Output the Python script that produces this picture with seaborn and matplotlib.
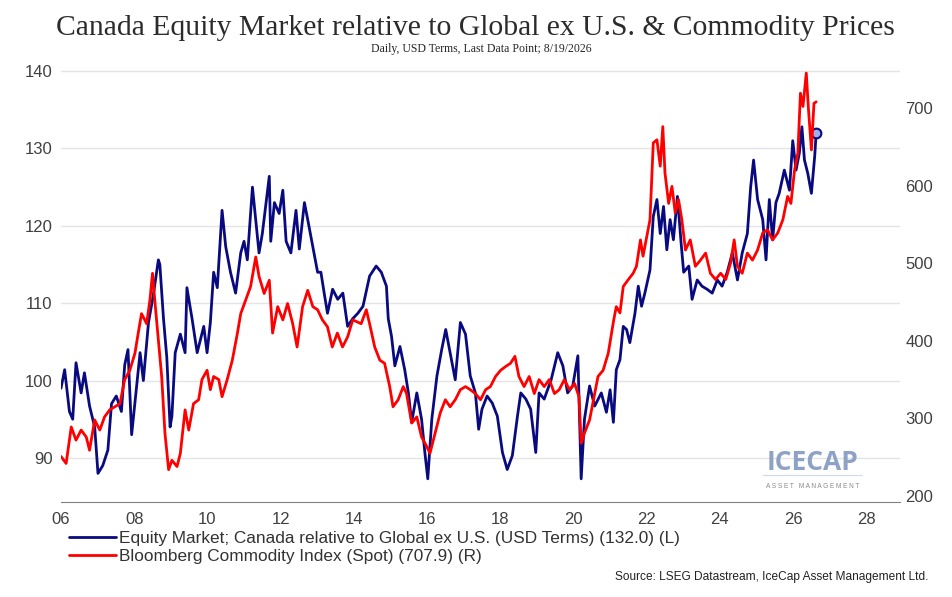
import numpy as np
import pandas as pd
import matplotlib
matplotlib.use('Agg')
import matplotlib.pyplot as plt
import seaborn as sns
from matplotlib.lines import Line2D

sns.set_style('white')
plt.rcParams['font.family'] = ['Liberation Sans', 'DejaVu Sans']

# Canada vs Global ex U.S. (left axis)
eq_year = [2006.00, 2006.10, 2006.23, 2006.32, 2006.41, 2006.55, 2006.64, 2006.78, 2006.92, 2007.01,
           2007.14, 2007.28, 2007.38, 2007.51, 2007.65, 2007.74, 2007.83, 2007.93, 2008.06, 2008.16,
           2008.25, 2008.39, 2008.52, 2008.66, 2008.70, 2008.80, 2008.89, 2008.98, 2009.03, 2009.12,
           2009.26, 2009.39, 2009.44, 2009.58, 2009.72, 2009.90, 2009.99, 2010.08, 2010.17, 2010.27,
           2010.40, 2010.50, 2010.63, 2010.77, 2010.91, 2011.00, 2011.09, 2011.23, 2011.32, 2011.41,
           2011.50, 2011.69, 2011.73, 2011.83, 2011.96, 2012.06, 2012.15, 2012.28, 2012.42, 2012.51,
           2012.65, 2012.74, 2012.88, 2013.01, 2013.10, 2013.20, 2013.28, 2013.42, 2013.56, 2013.70,
           2013.83, 2013.97, 2014.11, 2014.25, 2014.43, 2014.61, 2014.75, 2014.89, 2014.94, 2015.03,
           2015.12, 2015.26, 2015.39, 2015.49, 2015.58, 2015.72, 2015.85, 2015.94, 2016.02, 2016.13,
           2016.27, 2016.40, 2016.51, 2016.63, 2016.77, 2016.91, 2017.05, 2017.18, 2017.32, 2017.41,
           2017.50, 2017.64, 2017.78, 2017.92, 2018.06, 2018.19, 2018.33, 2018.47, 2018.56, 2018.70,
           2018.83, 2018.97, 2019.06, 2019.20, 2019.39, 2019.57, 2019.71, 2019.84, 2019.98, 2020.12,
           2020.21, 2020.30, 2020.44, 2020.58, 2020.76, 2020.90, 2021.00, 2021.09, 2021.17, 2021.27,
           2021.36, 2021.45, 2021.54, 2021.68, 2021.77, 2021.86, 2021.95, 2022.09, 2022.18, 2022.28,
           2022.37, 2022.46, 2022.55, 2022.64, 2022.73, 2022.84, 2022.94, 2023.01, 2023.15, 2023.24,
           2023.38, 2023.51, 2023.65, 2023.79, 2023.93, 2024.06, 2024.20, 2024.34, 2024.48, 2024.61,
           2024.75, 2024.84, 2024.92, 2025.03, 2025.17, 2025.26, 2025.35, 2025.44, 2025.53, 2025.62,
           2025.76, 2025.90, 2025.99, 2026.08, 2026.17, 2026.24, 2026.31, 2026.40, 2026.50, 2026.59,
           2026.63]
eq_value = [99.0, 101.4, 96.0, 95.0, 102.3, 98.4, 101.0, 96.7, 94.0, 88.0,
            89.0, 91.0, 97.0, 98.0, 96.0, 102.0, 104.0, 93.0, 99.0, 103.6,
            100.0, 107.5, 111.0, 115.6, 115.0, 108.0, 103.0, 94.0, 95.4, 103.6,
            106.0, 103.6, 112.0, 108.0, 103.6, 107.0, 103.6, 107.5, 114.0, 112.0,
            122.0, 117.3, 114.0, 111.3, 116.5, 118.0, 115.6, 125.0, 120.8, 116.5,
            119.0, 126.4, 118.0, 123.0, 121.6, 124.6, 118.0, 116.5, 122.0, 117.0,
            123.0, 120.8, 117.3, 114.0, 114.0, 111.0, 108.7, 111.8, 110.5, 111.3,
            107.0, 108.0, 108.7, 109.6, 113.5, 114.8, 114.0, 112.2, 108.0, 105.7,
            101.9, 104.4, 101.4, 98.4, 94.6, 98.4, 95.0, 90.7, 87.3, 95.0,
            100.6, 104.0, 106.6, 103.6, 100.1, 107.5, 106.0, 100.6, 98.4, 93.7,
            96.3, 98.0, 97.1, 95.4, 90.7, 88.5, 90.3, 95.4, 98.4, 97.6,
            96.3, 90.7, 98.4, 97.6, 100.1, 103.6, 101.9, 98.4, 99.3, 103.2,
            87.3, 95.0, 99.3, 96.7, 98.4, 95.9, 98.8, 94.6, 101.4, 102.7,
            107.0, 106.6, 104.9, 108.7, 112.2, 109.6, 111.3, 114.3, 121.2, 123.4,
            119.0, 122.5, 116.9, 120.8, 118.2, 123.8, 117.8, 114.0, 114.8, 110.5,
            113.0, 112.2, 111.8, 111.3, 113.0, 112.2, 114.0, 116.5, 113.0, 116.5,
            119.0, 125.0, 128.5, 123.4, 120.8, 115.6, 123.4, 118.2, 123.0, 124.2,
            127.2, 124.6, 131.0, 127.2, 129.4, 132.8, 128.5, 126.8, 124.2, 129.0,
            132.0]

# Bloomberg Commodity Index spot (right axis)
cm_year = [2006.00, 2006.14, 2006.28, 2006.41, 2006.55, 2006.69, 2006.78, 2006.92, 2007.06, 2007.19,
           2007.33, 2007.47, 2007.61, 2007.74, 2007.88, 2008.02, 2008.11, 2008.20, 2008.34, 2008.43,
           2008.50, 2008.57, 2008.66, 2008.75, 2008.84, 2008.94, 2009.03, 2009.17, 2009.26, 2009.39,
           2009.49, 2009.62, 2009.76, 2009.85, 2009.99, 2010.08, 2010.17, 2010.31, 2010.40, 2010.54,
           2010.68, 2010.82, 2010.91, 2011.05, 2011.18, 2011.32, 2011.41, 2011.55, 2011.69, 2011.78,
           2011.92, 2012.06, 2012.19, 2012.33, 2012.45, 2012.60, 2012.74, 2012.88, 2013.01, 2013.14,
           2013.28, 2013.41, 2013.55, 2013.69, 2013.83, 2013.97, 2014.20, 2014.34, 2014.43, 2014.57,
           2014.71, 2014.84, 2014.98, 2015.07, 2015.21, 2015.35, 2015.44, 2015.58, 2015.72, 2015.85,
           2015.99, 2016.08, 2016.22, 2016.36, 2016.50, 2016.63, 2016.77, 2016.91, 2017.05, 2017.18,
           2017.32, 2017.46, 2017.60, 2017.73, 2017.87, 2018.01, 2018.15, 2018.28, 2018.40, 2018.51,
           2018.65, 2018.79, 2018.93, 2019.06, 2019.20, 2019.34, 2019.48, 2019.61, 2019.75, 2019.89,
           2020.03, 2020.15, 2020.21, 2020.30, 2020.44, 2020.58, 2020.67, 2020.81, 2020.95, 2021.10,
           2021.17, 2021.27, 2021.36, 2021.50, 2021.63, 2021.72, 2021.83, 2021.90, 2022.00, 2022.09,
           2022.18, 2022.28, 2022.37, 2022.44, 2022.50, 2022.60, 2022.69, 2022.78, 2022.87, 2022.96,
           2023.06, 2023.19, 2023.33, 2023.47, 2023.61, 2023.74, 2023.88, 2024.02, 2024.16, 2024.29,
           2024.39, 2024.48, 2024.61, 2024.75, 2024.89, 2025.03, 2025.17, 2025.30, 2025.44, 2025.58,
           2025.72, 2025.85, 2025.94, 2026.04, 2026.13, 2026.20, 2026.27, 2026.36, 2026.42, 2026.50,
           2026.57, 2026.63]
cm_value = [251, 242, 289, 272, 285, 276, 259, 298, 285, 302,
            311, 315, 319, 350, 362, 384, 410, 435, 422, 453,
            487, 448, 401, 354, 281, 234, 246, 238, 255, 311,
            285, 319, 324, 350, 362, 337, 354, 350, 328, 350,
            375, 410, 435, 453, 470, 508, 483, 461, 478, 410,
            444, 427, 448, 422, 392, 444, 465, 444, 440, 427,
            418, 392, 410, 392, 405, 427, 422, 440, 422, 392,
            375, 371, 341, 315, 324, 341, 332, 294, 302, 276,
            264, 255, 281, 307, 324, 315, 324, 337, 341, 337,
            332, 324, 337, 341, 354, 362, 367, 371, 380, 354,
            341, 354, 332, 350, 341, 350, 332, 337, 350, 337,
            345, 328, 268, 281, 298, 332, 354, 362, 384, 427,
            444, 436, 470, 479, 487, 496, 530, 509, 534, 556,
            655, 659, 625, 676, 616, 577, 599, 565, 582, 556,
            517, 530, 496, 504, 513, 487, 479, 487, 479, 500,
            530, 496, 487, 513, 504, 517, 539, 543, 530, 539,
            556, 586, 577, 620, 642, 719, 702, 745, 698, 646,
            706, 707.9]

year_ticks = [2006, 2008, 2010, 2012, 2014, 2016, 2018, 2020, 2022, 2024, 2026, 2028]
year_labels = ['06', '08', '10', '12', '14', '16', '18', '20', '22', '24', '26', '28']
left_ticks = [90, 100, 110, 120, 130, 140]
right_ticks = [200, 300, 400, 500, 600, 700]

eq_label = 'Equity Market; Canada relative to Global ex U.S. (USD Terms) (132.0) (L)'
cm_label = 'Bloomberg Commodity Index (Spot) (707.9) (R)'

navy = '#0a0a80'
red = '#ff0000'
txt = '#404040'

eq = pd.DataFrame({'year': eq_year, 'value': eq_value})
cm = pd.DataFrame({'year': cm_year, 'value': cm_value})

fig = plt.figure(figsize=(9.53, 5.97), dpi=100)
ax = fig.add_axes([61/953, 1 - 502/597, 839/953, 434/597])
ax2 = ax.twinx()

sns.lineplot(data=eq, x='year', y='value', ax=ax, color=navy, lw=2, sort=False)
sns.lineplot(data=cm, x='year', y='value', ax=ax2, color=red, lw=2, sort=False)
ax.plot(eq_year[-1], eq_value[-1], marker='o', ms=7, mfc='#9fb0e8', mec=navy, mew=1.5, zorder=5)

ax.set_xlim(2006, 2028.92)
ax.set_ylim(84.3, 140.4)
ax2.set_ylim(192.3, 751.5)

ax.set_xticks(year_ticks)
ax.set_xticklabels(year_labels)
ax.set_yticks(left_ticks)
ax2.set_yticks(right_ticks)
ax.set_xlabel('')
ax.set_ylabel('')
ax2.set_ylabel('')

ax.grid(axis='y', color='#e4e4e4', lw=1)
ax.grid(axis='x', visible=False)
ax2.grid(False)
for a in (ax, ax2):
    for s in ['top', 'right', 'left']:
        a.spines[s].set_visible(False)
ax2.spines['bottom'].set_visible(False)
ax.spines['bottom'].set_color('#808080')

ax.tick_params(axis='x', direction='out', length=5, color='#808080', labelsize=12,
               labelcolor=txt, pad=2)
ax.tick_params(axis='y', length=0, labelsize=12, labelcolor=txt, pad=6)
ax2.tick_params(axis='y', length=0, labelsize=12, labelcolor=txt, pad=4)

# titles
fig.text(475/953, 1 - 28/597, 'Canada Equity Market relative to Global ex U.S. & Commodity Prices',
         ha='center', va='center', fontsize=21.3, color='#2b2b2b', family='Liberation Serif')
fig.text(481/953, 1 - 49/597, 'Daily, USD Terms, Last Data Point; 8/19/2026',
         ha='center', va='center', fontsize=8.5, color='#262626', family='Liberation Serif')

# legend
handles = [Line2D([0], [0], color=navy, lw=2), Line2D([0], [0], color=red, lw=2)]
fig.legend(handles, [eq_label, cm_label], loc='upper left',
           bbox_to_anchor=(66/953, 1 - 528/597), frameon=False, fontsize=12.4,
           handlelength=2.7, handletextpad=0.2, labelspacing=0.12, labelcolor='#333333',
           borderaxespad=0, borderpad=0.2)

fig.text(928/953, 1 - 577/597, 'Source: LSEG Datastream, IceCap Asset Management Ltd.',
         ha='right', va='center', fontsize=8.6, color='#222222')

# watermark logo
fig.text(813/953, 1 - 462/597, 'ICECAP', ha='center', va='center', fontsize=19,
         fontweight='bold', color='#8ea2c6', family='Open Sans')
fig.add_artist(Line2D([763/953, 862/953], [1 - 475/597, 1 - 475/597], color='#d0d9ea', lw=0.8))
fig.text(813/953, 1 - 486/597, 'A S S E T   M A N A G E M E N T', ha='center', va='center',
         fontsize=4.7, color='#8a8a8a')

fig.savefig('out.png', dpi=100)
